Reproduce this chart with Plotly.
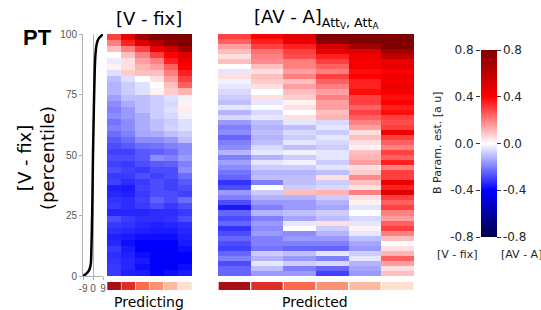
import plotly.graph_objects as go

W, H = 541, 310

# ---------------- data ----------------
curve_pct = [0, 1, 2, 3, 5, 10, 20, 30, 40, 50, 60, 70, 80, 90, 95, 97, 98, 99, 100]
curve_val = [-9, -6, -4, -3, -2, -1.5, -1, -0.6, -0.3, 0, 0.4, 0.8, 1.3, 2, 3, 4, 5, 7, 9]

predicting_cols = ["1", "2", "3", "4", "5", "6"]
predicted_cols = ["1", "2", "3", "4", "5", "6"]

# [V - fix] heatmap rows (top = 100th percentile)
vfix_rows = [
    [0.30, 0.45, 0.70, 0.80, 0.80, 0.80],
    [0.20, 0.35, 0.50, 0.65, 0.75, 0.80],
    [0.10, 0.20, 0.30, 0.45, 0.55, 0.70],
    [0.00, 0.10, 0.20, 0.30, 0.40, 0.50],
    [-0.03, 0.05, 0.15, 0.20, 0.35, 0.45],
    [0.02, 0.05, 0.12, 0.15, 0.25, 0.40],
    [-0.05, 0.08, 0.10, 0.10, 0.20, 0.35],
    [-0.10, -0.05, 0.00, 0.05, 0.15, 0.30],
    [-0.12, -0.08, -0.05, 0.00, 0.10, 0.25],
    [-0.12, -0.08, -0.05, 0.02, 0.08, 0.12],
    [-0.15, -0.10, -0.10, -0.08, -0.05, -0.02],
    [-0.18, -0.13, -0.10, -0.08, -0.06, 0.02],
    [-0.20, -0.16, -0.10, -0.08, -0.05, 0.03],
    [-0.18, -0.16, -0.13, -0.08, -0.06, -0.02],
    [-0.22, -0.18, -0.13, -0.10, -0.08, -0.05],
    [-0.20, -0.18, -0.13, -0.10, -0.07, -0.05],
    [-0.23, -0.20, -0.14, -0.13, -0.10, -0.08],
    [-0.26, -0.23, -0.18, -0.18, -0.16, -0.10],
    [-0.28, -0.26, -0.23, -0.22, -0.20, -0.18],
    [-0.30, -0.30, -0.26, -0.25, -0.23, -0.18],
    [-0.28, -0.28, -0.26, -0.18, -0.20, -0.16],
    [-0.30, -0.31, -0.28, -0.26, -0.25, -0.20],
    [-0.28, -0.30, -0.31, -0.28, -0.28, -0.18],
    [-0.31, -0.31, -0.28, -0.30, -0.28, -0.23],
    [-0.30, -0.33, -0.31, -0.28, -0.30, -0.26],
    [-0.35, -0.36, -0.30, -0.28, -0.30, -0.28],
    [-0.34, -0.35, -0.31, -0.28, -0.28, -0.30],
    [-0.32, -0.33, -0.30, -0.25, -0.28, -0.23],
    [-0.31, -0.33, -0.31, -0.28, -0.31, -0.28],
    [-0.34, -0.34, -0.34, -0.33, -0.33, -0.31],
    [-0.28, -0.31, -0.33, -0.33, -0.32, -0.28],
    [-0.31, -0.32, -0.34, -0.35, -0.34, -0.33],
    [-0.33, -0.34, -0.35, -0.36, -0.36, -0.34],
    [-0.35, -0.36, -0.38, -0.38, -0.38, -0.35],
    [-0.34, -0.38, -0.40, -0.40, -0.40, -0.36],
    [-0.31, -0.36, -0.40, -0.41, -0.41, -0.38],
    [-0.33, -0.35, -0.38, -0.41, -0.42, -0.40],
    [-0.32, -0.34, -0.36, -0.40, -0.41, -0.40],
    [-0.31, -0.34, -0.38, -0.42, -0.42, -0.38],
    [-0.31, -0.35, -0.36, -0.40, -0.38, -0.36],
]

# [AV - A] heatmap rows (top = 100th percentile)
ava_rows = [
    [0.30, 0.40, 0.50, 0.80, 0.80, 0.80],
    [0.25, 0.35, 0.45, 0.75, 0.80, 0.80],
    [0.15, 0.30, 0.35, 0.55, 0.70, 0.80],
    [0.10, 0.22, 0.30, 0.45, 0.50, 0.70],
    [0.05, 0.20, 0.28, 0.35, 0.45, 0.60],
    [0.10, 0.18, 0.20, 0.30, 0.42, 0.45],
    [0.00, 0.10, 0.20, 0.25, 0.42, 0.48],
    [-0.04, 0.05, 0.15, 0.20, 0.38, 0.40],
    [0.05, 0.10, 0.20, 0.30, 0.40, 0.45],
    [-0.02, 0.08, 0.10, 0.25, 0.35, 0.42],
    [-0.04, 0.05, 0.15, 0.20, 0.35, 0.45],
    [-0.06, 0.00, 0.10, 0.15, 0.38, 0.42],
    [-0.08, 0.05, 0.08, 0.20, 0.30, 0.38],
    [-0.10, -0.04, 0.02, 0.15, 0.30, 0.40],
    [-0.04, 0.00, 0.05, 0.15, 0.25, 0.35],
    [-0.12, -0.06, 0.00, 0.10, 0.30, 0.38],
    [-0.06, -0.04, 0.05, 0.12, 0.25, 0.30],
    [-0.16, -0.10, -0.04, -0.06, 0.20, 0.28],
    [-0.20, -0.12, -0.10, -0.04, 0.15, 0.30],
    [-0.18, -0.10, -0.06, -0.08, 0.05, 0.45],
    [-0.24, -0.12, -0.08, -0.04, 0.10, 0.30],
    [-0.20, -0.10, -0.04, -0.06, 0.05, 0.25],
    [-0.18, -0.06, -0.10, -0.08, 0.02, 0.20],
    [-0.12, -0.04, -0.02, -0.04, 0.10, 0.30],
    [-0.20, -0.12, -0.08, -0.04, 0.12, 0.25],
    [-0.15, -0.04, -0.02, -0.08, 0.15, 0.35],
    [-0.18, -0.08, -0.08, -0.04, 0.05, 0.20],
    [-0.22, -0.12, -0.12, -0.10, 0.08, 0.30],
    [-0.24, -0.10, -0.10, 0.05, 0.18, 0.30],
    [-0.32, -0.20, -0.10, -0.08, 0.10, 0.45],
    [-0.28, 0.00, -0.08, -0.06, 0.05, 0.35],
    [-0.16, -0.08, 0.10, 0.12, 0.20, 0.50],
    [-0.20, -0.12, -0.12, -0.08, 0.05, 0.30],
    [-0.28, -0.16, -0.16, -0.12, 0.02, 0.25],
    [-0.36, -0.20, -0.16, -0.14, -0.04, 0.30],
    [-0.24, -0.12, -0.10, -0.08, 0.00, 0.20],
    [-0.28, -0.20, -0.14, -0.10, -0.06, 0.15],
    [-0.24, -0.16, -0.04, 0.05, -0.04, 0.25],
    [-0.32, -0.18, 0.00, -0.08, 0.02, 0.30],
    [-0.28, -0.16, -0.18, -0.12, -0.04, 0.20],
    [-0.24, -0.20, -0.16, -0.16, -0.10, 0.10],
    [-0.28, -0.20, -0.20, -0.20, -0.14, 0.00],
    [-0.30, -0.22, -0.24, -0.24, -0.16, 0.05],
    [-0.24, -0.08, -0.10, -0.04, -0.08, 0.12],
    [-0.20, -0.12, -0.16, -0.20, -0.04, 0.25],
    [-0.28, -0.04, -0.08, -0.06, -0.12, 0.15],
    [-0.24, -0.10, -0.20, -0.24, -0.14, 0.05],
    [-0.24, -0.16, -0.16, -0.30, -0.16, 0.10],
]

strip_colors = ["#a50f15", "#de2d26", "#fb6a4a", "#fc9272", "#fcbba1", "#fee0d2"]
strip_heights = [1, 1, 1, 1, 1, 1]

cbar_ticks = [-0.8, -0.4, 0.0, 0.4, 0.8]
cbar_ticktext = ["-0.8", "-0.4", "0.0", "0.4", "0.8"]

seismic = [[0.0, "rgb(0,0,76)"], [0.25, "rgb(0,0,255)"], [0.5, "rgb(255,255,255)"],
           [0.75, "rgb(255,0,0)"], [1.0, "rgb(127,0,0)"]]


def px(x):
    return x / W


def py(y):
    return 1 - y / H


MAIN = "DejaVu Sans"
TICKF = "Liberation Sans"

fig = go.Figure()

# left line plot
fig.add_trace(go.Scatter(x=curve_val, y=curve_pct, mode="lines",
                         line=dict(color="black", width=2.5, shape="spline"),
                         xaxis="x", yaxis="y", showlegend=False, hoverinfo="skip"))

# heatmaps
fig.add_trace(go.Heatmap(z=vfix_rows, x=predicting_cols, coloraxis="coloraxis",
                         xaxis="x2", yaxis="y2", hoverinfo="skip"))
fig.add_trace(go.Heatmap(z=ava_rows, x=predicted_cols, coloraxis="coloraxis",
                         xaxis="x3", yaxis="y3", hoverinfo="skip"))

# bottom strips
fig.add_trace(go.Bar(x=predicting_cols, y=strip_heights, marker=dict(color=strip_colors, line=dict(width=0)),
                     xaxis="x4", yaxis="y4", showlegend=False, hoverinfo="skip"))
fig.add_trace(go.Bar(x=predicted_cols, y=strip_heights, marker=dict(color=strip_colors, line=dict(width=0)),
                     xaxis="x5", yaxis="y5", showlegend=False, hoverinfo="skip"))

# invisible trace for left colorbar axis
fig.add_trace(go.Scatter(x=[0, 0], y=[cbar_ticks[0], cbar_ticks[-1]], mode="markers",
                         marker=dict(opacity=0), xaxis="x6", yaxis="y6",
                         showlegend=False, hoverinfo="skip"))

hid = dict(visible=False, showgrid=False, zeroline=False)
ydom = [py(276), py(34)]

fig.update_layout(
    width=W, height=H,
    margin=dict(l=0, r=0, t=0, b=0, autoexpand=False),
    paper_bgcolor="white", plot_bgcolor="rgba(0,0,0,0)",
    bargap=0.04,
    xaxis=dict(domain=[px(83), px(103)], range=[-9, 9], anchor="y",
               tickvals=[-9, 0, 9], ticktext=["-9", "0", "9"],
               showline=True, linecolor="#b0b0b0", linewidth=1,
               ticks="outside", ticklen=3, tickcolor="#b0b0b0",
               tickfont=dict(family=TICKF, size=10, color="#555"),
               showgrid=False, zeroline=True, zerolinecolor="#b0b0b0", zerolinewidth=1),
    yaxis=dict(domain=ydom, range=[0, 100], anchor="x",
               tickvals=[0, 25, 50, 75, 100],
               showline=True, linecolor="#b0b0b0", linewidth=1,
               ticks="outside", ticklen=3, tickcolor="#b0b0b0",
               tickfont=dict(family=TICKF, size=10, color="#555"),
               showgrid=False, zeroline=False),
    xaxis2=dict(domain=[px(107), px(192)], anchor="y2", **hid),
    yaxis2=dict(domain=ydom, anchor="x2", autorange="reversed", **hid),
    xaxis3=dict(domain=[px(218), px(414)], anchor="y3", **hid),
    yaxis3=dict(domain=ydom, anchor="x3", autorange="reversed", **hid),
    xaxis4=dict(domain=[px(107), px(192)], anchor="y4", **hid),
    yaxis4=dict(domain=[py(290), py(282)], anchor="x4", range=[0, 1], **hid),
    xaxis5=dict(domain=[px(218), px(414)], anchor="y5", **hid),
    yaxis5=dict(domain=[py(290), py(282)], anchor="x5", range=[0, 1], **hid),
    xaxis6=dict(domain=[px(481), px(497)], anchor="y6", **hid),
    yaxis6=dict(domain=[py(237), py(50)], anchor="x6", range=[-0.8, 0.8], side="left",
                tickvals=cbar_ticks, ticktext=cbar_ticktext, ticks="outside", ticklen=4,
                tickcolor="#333", showline=False, showgrid=False, zeroline=False,
                tickfont=dict(family=MAIN, size=12, color="#262626")),
    coloraxis=dict(colorscale=seismic, cmin=-0.8, cmax=0.8,
                   colorbar=dict(x=px(481), xanchor="left", xref="paper",
                                 y=py(143.5), yanchor="middle", yref="paper",
                                 thickness=16, thicknessmode="pixels",
                                 len=187, lenmode="pixels", ypad=0, xpad=0,
                                 outlinewidth=0, ticks="outside", ticklen=4, tickcolor="#333",
                                 tickvals=cbar_ticks, ticktext=cbar_ticktext,
                                 tickfont=dict(family=MAIN, size=12, color="#262626"))),
)

ann = [
    dict(text="<b>PT</b>", x=px(37), y=py(38), font=dict(family=TICKF, size=22, color="black")),
    dict(text="[V - fix]<br>(percentile)", x=px(36), y=py(158), textangle=-90,
         font=dict(family=MAIN, size=18, color="black")),
    dict(text="[V - fix]", x=px(149), y=py(19), font=dict(family=MAIN, size=18, color="black")),
    dict(text="[AV - A]<sub>Att<sub>V</sub>, Att<sub>A</sub></sub>", x=px(316), y=py(19),
         font=dict(family=MAIN, size=18, color="black")),
    dict(text="Predicting", x=px(149), y=py(302), font=dict(family=MAIN, size=14, color="black")),
    dict(text="Predicted", x=px(315), y=py(302), font=dict(family=MAIN, size=14, color="black")),
    dict(text="B Param. est. [a u]", x=px(437), y=py(143), textangle=-90,
         font=dict(family=MAIN, size=11, color="#262626")),
    dict(text="[V - fix]", x=px(458), y=py(254), font=dict(family=MAIN, size=11, color="#262626")),
    dict(text="[AV - A]", x=px(521), y=py(254), font=dict(family=MAIN, size=11, color="#262626")),
]
for a in ann:
    a.update(xref="paper", yref="paper", showarrow=False, xanchor="center", yanchor="middle")
fig.update_layout(annotations=ann)

fig.write_html("out.html", config={"displayModeBar": False},
               post_script="document.body.style.margin='0';")
